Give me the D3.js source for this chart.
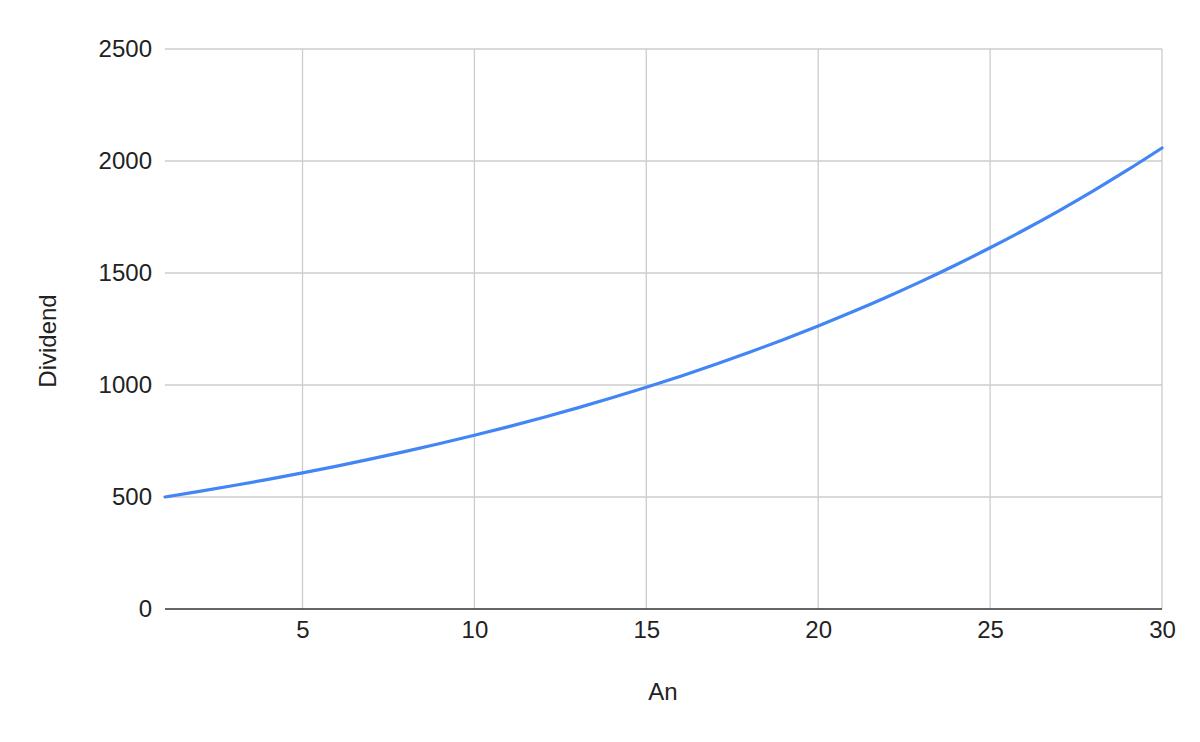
<!DOCTYPE html>
<html>
<head>
<meta charset="utf-8">
<script src="https://cdn.jsdelivr.net/npm/d3@7"></script>
<style>
  html, body { margin: 0; padding: 0; background: #fff; }
  svg { display: block; }
  text { font-family: Arial, "Liberation Sans", sans-serif; fill: #222; }
</style>
</head>
<body>
<svg id="chart" width="1200" height="742"></svg>
<script>
// Data
const years = [1,2,3,4,5,6,7,8,9,10,11,12,13,14,15,16,17,18,19,20,21,22,23,24,25,26,27,28,29,30];
const dividend = [500,525,551.3,578.8,607.8,638.1,670.0,703.6,738.7,775.7,814.4,855.2,897.9,942.8,990.0,1039.5,1091.4,1146.0,1203.3,1263.5,1326.6,1393.0,1462.6,1535.8,1612.6,1693.2,1777.8,1866.7,1960.1,2058.1];
const xTicks = [5,10,15,20,25,30];
const yTicks = [0,500,1000,1500,2000,2500];
const xTitle = "An";
const yTitle = "Dividend";

const svg = d3.select("#chart");
const margin = { left: 165, right: 38, top: 49, bottom: 133 };
const W = 1200, H = 742;
const FS = "24px";

const x = d3.scaleLinear().domain([1, 30]).range([margin.left, W - margin.right]);
const y = d3.scaleLinear().domain([0, 2500]).range([H - margin.bottom, margin.top]);

// horizontal grid
svg.append("g")
  .selectAll("line")
  .data(yTicks.filter(d => d !== 0))
  .join("line")
  .attr("x1", x(1)).attr("x2", x(30))
  .attr("y1", d => y(d)).attr("y2", d => y(d))
  .attr("stroke", "#cccccc").attr("stroke-width", 1.3);

// vertical grid
svg.append("g")
  .selectAll("line")
  .data(xTicks)
  .join("line")
  .attr("x1", d => x(d)).attr("x2", d => x(d))
  .attr("y1", y(2500)).attr("y2", y(0))
  .attr("stroke", "#cccccc").attr("stroke-width", 1.3);

// baseline
svg.append("line")
  .attr("x1", x(1)).attr("x2", x(30))
  .attr("y1", y(0)).attr("y2", y(0))
  .attr("stroke", "#333333").attr("stroke-width", 1.5);

// y axis labels
const yAxis = d3.axisLeft(y).tickValues(yTicks).tickSize(0).tickPadding(13).tickFormat(d3.format("d"));
const gy = svg.append("g").attr("transform", `translate(${x(1)},0)`).call(yAxis);
gy.select(".domain").remove();
gy.selectAll("text").style("font-size", FS).style("font-family", "Arial, 'Liberation Sans', sans-serif").attr("fill", "#111");

// x axis labels
const xAxis = d3.axisBottom(x).tickValues(xTicks).tickSize(0).tickPadding(12).tickFormat(d3.format("d"));
const gx = svg.append("g").attr("transform", `translate(0,${y(0)})`).call(xAxis);
gx.select(".domain").remove();
gx.selectAll("text").style("font-size", FS).style("font-family", "Arial, 'Liberation Sans', sans-serif").attr("fill", "#111");

// line
const line = d3.line()
  .x((d, i) => x(years[i]))
  .y(d => y(d))
  .curve(d3.curveMonotoneX);

svg.append("path")
  .datum(dividend)
  .attr("fill", "none")
  .attr("stroke", "#4285f4")
  .attr("stroke-width", 3.2)
  .attr("stroke-linejoin", "round")
  .attr("stroke-linecap", "round")
  .attr("d", line);

// axis titles
svg.append("text")
  .attr("x", 663).attr("y", 700)
  .attr("text-anchor", "middle")
  .style("font-size", FS)
  .attr("fill", "#111")
  .text(xTitle);

svg.append("text")
  .attr("transform", "translate(56,341) rotate(-90)")
  .attr("text-anchor", "middle")
  .style("font-size", FS)
  .attr("fill", "#111")
  .text(yTitle);
</script>
</body>
</html>
